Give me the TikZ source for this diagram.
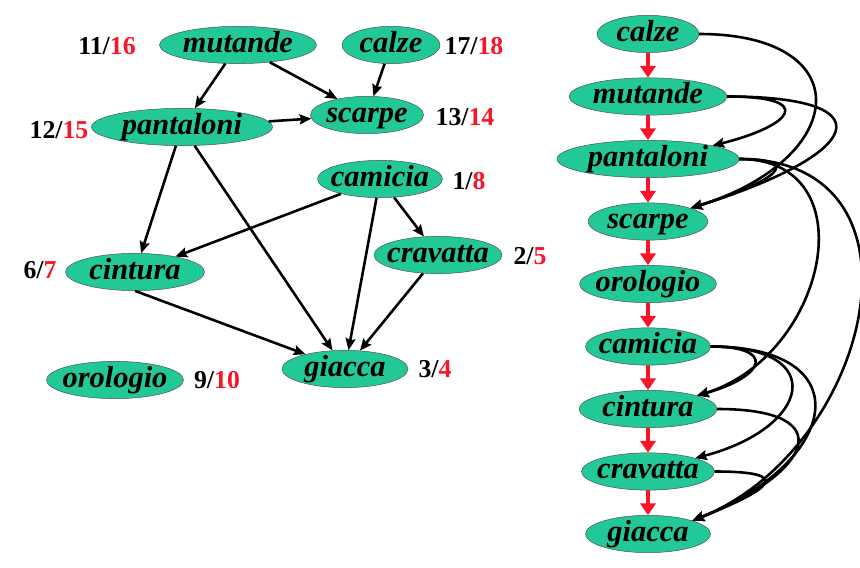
\documentclass[tikz,border=0pt]{standalone}
\usepackage{fontspec}
\setmainfont{Liberation Serif}
\usetikzlibrary{shapes.geometric,arrows.meta}
\definecolor{nodegreen}{RGB}{34,200,152}
\definecolor{numred}{RGB}{250,20,40}

\begin{document}
\begin{tikzpicture}[
    x=0.03cm, y=-0.03cm,
    item/.style={ellipse, draw=black!70, thin, fill=nodegreen,
        inner xsep=-20pt, inner ysep=0pt, text height=17.5pt, text depth=5pt,
        minimum width=#1*0.03cm,
        font=\fontsize{26}{30}\selectfont\bfseries\itshape},
    num/.style={font=\fontsize{22}{26}\selectfont\bfseries},
    edge/.style={line width=2.2pt, -{Stealth[length=10pt,width=8.5pt,inset=1.5pt]}},
    order/.style={line width=3.4pt, numred, -{Triangle[length=10pt,width=13pt]}}
]
    \useasboundingbox (0,0) rectangle (860,568);

    % graph with discovery/finish times
    \node[item=157] (mutande) at (238,45) {mutande};
    \node[item=98] (calze) at (391,45) {calze};
    \node[item=181] (pantaloni) at (182,127) {pantaloni};
    \node[item=113] (scarpe) at (367,115) {scarpe};
    \node[item=125] (camicia) at (380,179) {camicia};
    \node[item=128] (cravatta) at (438,255) {cravatta};
    \node[item=139] (cintura) at (135,272) {cintura};
    \node[item=126] (giacca) at (345,369) {giacca};
    \node[item=137] (orologio) at (115,380) {orologio};

    \node[num] (mutande-t) at (107,46) {11/\textcolor{numred}{16}};
    \node[num] (calze-t) at (474,46) {17/\textcolor{numred}{18}};
    \node[num] (pantaloni-t) at (59,130) {12/\textcolor{numred}{15}};
    \node[num] (scarpe-t) at (465,117) {13/\textcolor{numred}{14}};
    \node[num] (camicia-t) at (469,181) {1/\textcolor{numred}{8}};
    \node[num] (cravatta-t) at (530,256) {2/\textcolor{numred}{5}};
    \node[num] (cintura-t) at (40,270) {6/\textcolor{numred}{7}};
    \node[num] (giacca-t) at (435,369) {3/\textcolor{numred}{4}};
    \node[num] (orologio-t) at (217,380) {9/\textcolor{numred}{10}};

    \draw[edge] (mutande) -- (pantaloni);
    \draw[edge] (mutande) -- (scarpe);
    \draw[edge] (calze) -- (scarpe);
    \draw[edge] (pantaloni) -- (scarpe);
    \draw[edge] (pantaloni) -- (cintura);
    \draw[edge] (pantaloni) -- (giacca);
    \draw[edge] (camicia) -- (cintura);
    \draw[edge] (camicia) -- (cravatta);
    \draw[edge] (camicia) -- (giacca);
    \draw[edge] (cintura.south) -- (giacca);
    \draw[edge] (cravatta) -- (giacca);

    % topological order
    \foreach \name/\w [count=\i] in {calze/102,mutande/158,pantaloni/182,scarpe/120,
        orologio/137,camicia/125,cintura/138,cravatta/133,giacca/125}
        \node[item=\w] (r-\name) at (648,{34+62.5*(\i-1)}) {\name};
    \foreach \a/\b in {calze/mutande,mutande/pantaloni,pantaloni/scarpe,scarpe/orologio,
        orologio/camicia,camicia/cintura,cintura/cravatta,cravatta/giacca}
        \draw[order] (r-\a) -- (r-\b);

    \draw[edge] (r-calze.east) .. controls +(160,0) and +(160,-50) .. (r-scarpe.north east);
    \draw[edge] (r-mutande.east) .. controls +(90,0) and +(80,-20) .. (r-pantaloni.north east);
    \draw[edge] (r-mutande.east) .. controls +(160,0) and +(175,-55) .. (r-scarpe.north east);
    \draw[edge] (r-pantaloni.east) .. controls +(70,0) and +(80,-25) .. (r-scarpe.north east);
    \draw[edge] (r-pantaloni.east) .. controls +(130,0) and +(130,-40) .. (r-cintura.north east);
    \draw[edge] (r-pantaloni.east) .. controls +(200,0) and +(180,-72) .. (r-giacca.north east);
    \draw[edge] (r-camicia.east) .. controls +(65,0) and +(70,-20) .. (r-cintura.north east);
    \draw[edge] (r-camicia.east) .. controls +(120,0) and +(115,-30) .. (r-cravatta.north east);
    \draw[edge] (r-camicia.east) .. controls +(150,0) and +(150,-60) .. (r-giacca.north east);
    \draw[edge] (r-cintura.east) .. controls +(125,0) and +(120,-48) .. (r-giacca.north east);
    \draw[edge] (r-cravatta.east) .. controls +(80,0) and +(80,-32) .. (r-giacca.north east);
\end{tikzpicture}
\end{document}
